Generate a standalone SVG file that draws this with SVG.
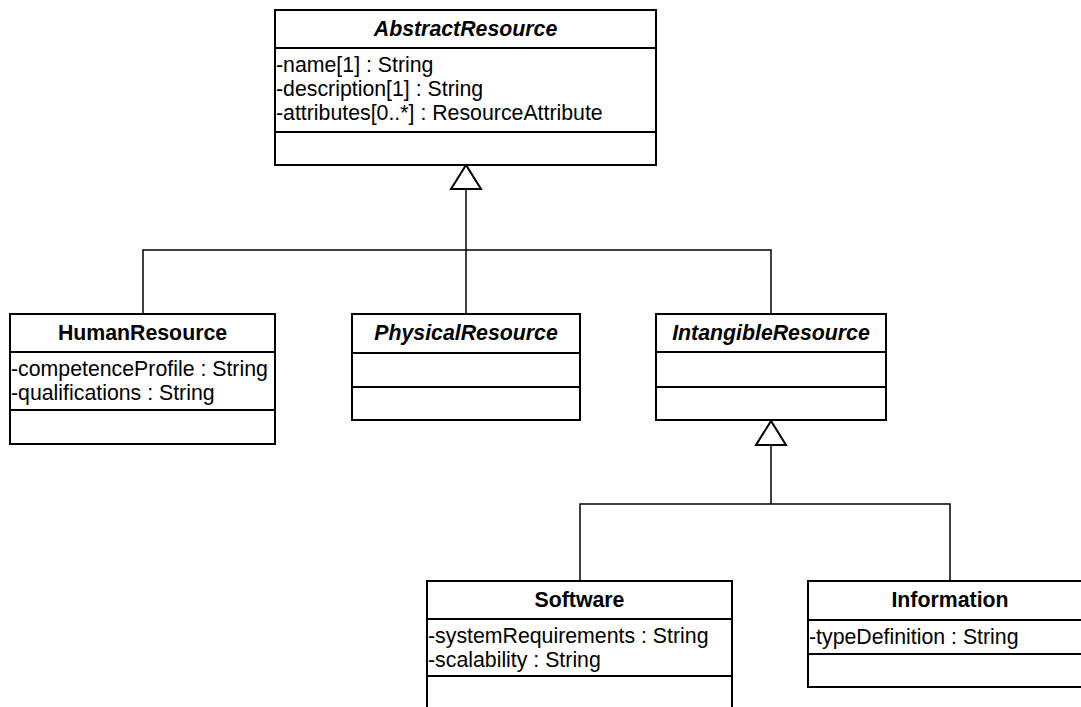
<svg xmlns="http://www.w3.org/2000/svg" width="1081" height="707" viewBox="0 0 1081 707">
<style>
.box{fill:#fff;stroke:#000;stroke-width:2}
.sep{stroke:#000;stroke-width:2}
.t{font-family:"Liberation Sans",Arial,sans-serif;font-size:21.3px;font-weight:bold;text-anchor:middle;fill:#000}
.ti{font-style:italic}
.a{font-family:"Liberation Sans",Arial,sans-serif;font-size:21.3px;fill:#000}
.c{fill:none;stroke:#000;stroke-width:1.5}
.tri{fill:#fff;stroke:#000;stroke-width:2}
</style>
<rect width="1081" height="707" fill="#fff"/>
<g id="connectors">
<polyline class="c" points="466,189 466,316"/>
<polyline class="c" points="143,316 143,250 771,250 771,316"/>
<polygon class="tri" points="466,165 451,189 481,189"/>
<polyline class="c" points="771,445 771,504"/>
<polyline class="c" points="580,581 580,504 950,504 950,581"/>
<polygon class="tri" points="771,421 756,445 786,445"/>
</g>
<g id="AbstractResource">
<rect class="box" x="275" y="10" width="381" height="155"/>
<line class="sep" x1="275" y1="48" x2="656" y2="48"/>
<line class="sep" x1="275" y1="132" x2="656" y2="132"/>
<text class="t ti" x="465.5" y="36">AbstractResource</text>
<text class="a" x="276" y="72">-name[1] : String</text>
<text class="a" x="276" y="96">-description[1] : String</text>
<text class="a" x="276" y="120">-attributes[0..*] : ResourceAttribute</text>
</g>
<g id="HumanResource">
<rect class="box" x="10" y="314" width="265" height="130"/>
<line class="sep" x1="10" y1="352" x2="275" y2="352"/>
<line class="sep" x1="10" y1="410" x2="275" y2="410"/>
<text class="t" x="142.5" y="340">HumanResource</text>
<text class="a" x="11" y="376">-competenceProfile : String</text>
<text class="a" x="11" y="400">-qualifications : String</text>
</g>
<g id="PhysicalResource">
<rect class="box" x="352" y="314" width="228" height="106"/>
<line class="sep" x1="352" y1="353" x2="580" y2="353"/>
<line class="sep" x1="352" y1="387" x2="580" y2="387"/>
<text class="t ti" x="466" y="340">PhysicalResource</text>
</g>
<g id="IntangibleResource">
<rect class="box" x="656" y="314" width="230" height="106"/>
<line class="sep" x1="656" y1="352" x2="886" y2="352"/>
<line class="sep" x1="656" y1="387" x2="886" y2="387"/>
<text class="t ti" x="771" y="340">IntangibleResource</text>
</g>
<g id="Software">
<rect class="box" x="427" y="581" width="305" height="140"/>
<line class="sep" x1="427" y1="619" x2="732" y2="619"/>
<line class="sep" x1="427" y1="676" x2="732" y2="676"/>
<text class="t" x="579.5" y="607">Software</text>
<text class="a" x="428" y="643">-systemRequirements : String</text>
<text class="a" x="428" y="667">-scalability : String</text>
</g>
<g id="Information">
<rect class="box" x="808" y="581" width="284" height="106"/>
<line class="sep" x1="808" y1="620" x2="1092" y2="620"/>
<line class="sep" x1="808" y1="654" x2="1092" y2="654"/>
<text class="t" x="950" y="607">Information</text>
<text class="a" x="809" y="644">-typeDefinition : String</text>
</g>
</svg>
